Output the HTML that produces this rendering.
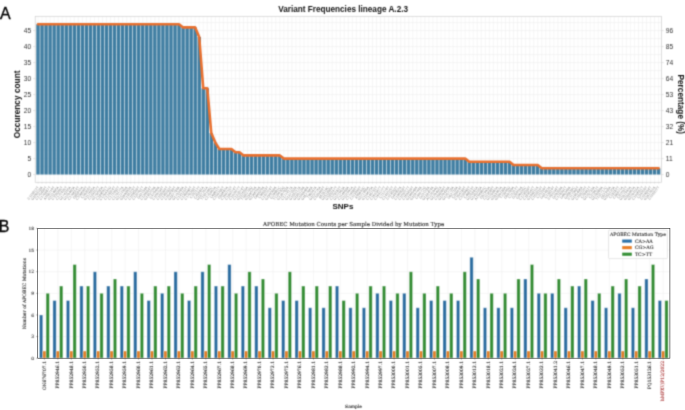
<!DOCTYPE html>
<html lang="en"><head><meta charset="utf-8"><title>Variant Frequencies lineage A.2.3</title>
<style>
html,body{margin:0;padding:0;background:#fff;}
body{width:685px;height:410px;overflow:hidden;}
svg{display:block;}
.sans{font-family:"Liberation Sans",Arial,Helvetica,sans-serif;}
.serif{font-family:"DejaVu Serif","Liberation Serif",serif;}
.serif text{stroke:#222;stroke-width:0.1px;}
.serif text.red{stroke:#a52a2a;}
.serif text.sans{stroke:none;}
.sans text.b{stroke:#111;stroke-width:0.2px;}
</style></head><body>
<svg width="685" height="410" viewBox="0 0 685 410">
<defs><filter id="soft" x="0" y="0" width="685" height="410" filterUnits="userSpaceOnUse" color-interpolation-filters="sRGB"><feConvolveMatrix order="3" kernelMatrix="0.0324 0.1152 0.0324 0.1152 0.4096 0.1152 0.0324 0.1152 0.0324" divisor="1" edgeMode="duplicate" preserveAlpha="false"/></filter></defs>
<g filter="url(#soft)">
<rect x="0" y="0" width="685" height="410" fill="#ffffff"/>
<g id="panelA" class="sans">
<path d="M35.2 174.60H661.6M35.2 166.60H661.6M35.2 158.60H661.6M35.2 150.60H661.6M35.2 142.60H661.6M35.2 134.60H661.6M35.2 126.60H661.6M35.2 118.60H661.6M35.2 110.60H661.6M35.2 102.60H661.6M35.2 94.60H661.6M35.2 86.60H661.6M35.2 78.60H661.6M35.2 70.60H661.6M35.2 62.60H661.6M35.2 54.60H661.6M35.2 46.60H661.6M35.2 38.60H661.6M35.2 30.60H661.6M35.2 22.60H661.6M38.00 16.3V182.3M42.03 16.3V182.3M46.06 16.3V182.3M50.09 16.3V182.3M54.12 16.3V182.3M58.15 16.3V182.3M62.18 16.3V182.3M66.21 16.3V182.3M70.24 16.3V182.3M74.27 16.3V182.3M78.30 16.3V182.3M82.33 16.3V182.3M86.36 16.3V182.3M90.39 16.3V182.3M94.42 16.3V182.3M98.45 16.3V182.3M102.48 16.3V182.3M106.51 16.3V182.3M110.54 16.3V182.3M114.57 16.3V182.3M118.60 16.3V182.3M122.63 16.3V182.3M126.66 16.3V182.3M130.69 16.3V182.3M134.72 16.3V182.3M138.75 16.3V182.3M142.78 16.3V182.3M146.81 16.3V182.3M150.84 16.3V182.3M154.87 16.3V182.3M158.90 16.3V182.3M162.93 16.3V182.3M166.96 16.3V182.3M170.99 16.3V182.3M175.02 16.3V182.3M179.05 16.3V182.3M183.08 16.3V182.3M187.11 16.3V182.3M191.14 16.3V182.3M195.17 16.3V182.3M199.20 16.3V182.3M203.23 16.3V182.3M207.26 16.3V182.3M211.29 16.3V182.3M215.32 16.3V182.3M219.35 16.3V182.3M223.38 16.3V182.3M227.41 16.3V182.3M231.44 16.3V182.3M235.47 16.3V182.3M239.50 16.3V182.3M243.53 16.3V182.3M247.56 16.3V182.3M251.59 16.3V182.3M255.62 16.3V182.3M259.65 16.3V182.3M263.68 16.3V182.3M267.71 16.3V182.3M271.74 16.3V182.3M275.77 16.3V182.3M279.80 16.3V182.3M283.83 16.3V182.3M287.86 16.3V182.3M291.89 16.3V182.3M295.92 16.3V182.3M299.95 16.3V182.3M303.98 16.3V182.3M308.01 16.3V182.3M312.04 16.3V182.3M316.07 16.3V182.3M320.10 16.3V182.3M324.13 16.3V182.3M328.16 16.3V182.3M332.19 16.3V182.3M336.22 16.3V182.3M340.25 16.3V182.3M344.28 16.3V182.3M348.31 16.3V182.3M352.34 16.3V182.3M356.37 16.3V182.3M360.40 16.3V182.3M364.43 16.3V182.3M368.46 16.3V182.3M372.49 16.3V182.3M376.52 16.3V182.3M380.55 16.3V182.3M384.58 16.3V182.3M388.61 16.3V182.3M392.64 16.3V182.3M396.67 16.3V182.3M400.70 16.3V182.3M404.73 16.3V182.3M408.76 16.3V182.3M412.79 16.3V182.3M416.82 16.3V182.3M420.85 16.3V182.3M424.88 16.3V182.3M428.91 16.3V182.3M432.94 16.3V182.3M436.97 16.3V182.3M441.00 16.3V182.3M445.03 16.3V182.3M449.06 16.3V182.3M453.09 16.3V182.3M457.12 16.3V182.3M461.15 16.3V182.3M465.18 16.3V182.3M469.21 16.3V182.3M473.24 16.3V182.3M477.27 16.3V182.3M481.30 16.3V182.3M485.33 16.3V182.3M489.36 16.3V182.3M493.39 16.3V182.3M497.42 16.3V182.3M501.45 16.3V182.3M505.48 16.3V182.3M509.51 16.3V182.3M513.54 16.3V182.3M517.57 16.3V182.3M521.60 16.3V182.3M525.63 16.3V182.3M529.66 16.3V182.3M533.69 16.3V182.3M537.72 16.3V182.3M541.75 16.3V182.3M545.78 16.3V182.3M549.81 16.3V182.3M553.84 16.3V182.3M557.87 16.3V182.3M561.90 16.3V182.3M565.93 16.3V182.3M569.96 16.3V182.3M573.99 16.3V182.3M578.02 16.3V182.3M582.05 16.3V182.3M586.08 16.3V182.3M590.11 16.3V182.3M594.14 16.3V182.3M598.17 16.3V182.3M602.20 16.3V182.3M606.23 16.3V182.3M610.26 16.3V182.3M614.29 16.3V182.3M618.32 16.3V182.3M622.35 16.3V182.3M626.38 16.3V182.3M630.41 16.3V182.3M634.44 16.3V182.3M638.47 16.3V182.3M642.50 16.3V182.3M646.53 16.3V182.3M650.56 16.3V182.3M654.59 16.3V182.3M658.62 16.3V182.3" stroke="#ececec" stroke-width="0.5" fill="none"/>
<path d="M36.29 174.6V24.20h3.43V174.6zM40.32 174.6V24.20h3.43V174.6zM44.35 174.6V24.20h3.43V174.6zM48.38 174.6V24.20h3.43V174.6zM52.41 174.6V24.20h3.43V174.6zM56.44 174.6V24.20h3.43V174.6zM60.47 174.6V24.20h3.43V174.6zM64.50 174.6V24.20h3.43V174.6zM68.53 174.6V24.20h3.43V174.6zM72.56 174.6V24.20h3.43V174.6zM76.59 174.6V24.20h3.43V174.6zM80.62 174.6V24.20h3.43V174.6zM84.65 174.6V24.20h3.43V174.6zM88.68 174.6V24.20h3.43V174.6zM92.71 174.6V24.20h3.43V174.6zM96.74 174.6V24.20h3.43V174.6zM100.77 174.6V24.20h3.43V174.6zM104.80 174.6V24.20h3.43V174.6zM108.83 174.6V24.20h3.43V174.6zM112.86 174.6V24.20h3.43V174.6zM116.89 174.6V24.20h3.43V174.6zM120.92 174.6V24.20h3.43V174.6zM124.95 174.6V24.20h3.43V174.6zM128.98 174.6V24.20h3.43V174.6zM133.01 174.6V24.20h3.43V174.6zM137.04 174.6V24.20h3.43V174.6zM141.07 174.6V24.20h3.43V174.6zM145.10 174.6V24.20h3.43V174.6zM149.13 174.6V24.20h3.43V174.6zM153.16 174.6V24.20h3.43V174.6zM157.19 174.6V24.20h3.43V174.6zM161.22 174.6V24.20h3.43V174.6zM165.25 174.6V24.20h3.43V174.6zM169.28 174.6V24.20h3.43V174.6zM173.31 174.6V24.20h3.43V174.6zM177.34 174.6V24.20h3.43V174.6zM181.37 174.6V27.40h3.43V174.6zM185.40 174.6V27.40h3.43V174.6zM189.43 174.6V27.40h3.43V174.6zM193.46 174.6V27.40h3.43V174.6zM197.49 174.6V37.00h3.43V174.6zM201.52 174.6V88.20h3.43V174.6zM205.55 174.6V88.20h3.43V174.6zM209.58 174.6V133.00h3.43V174.6zM213.61 174.6V142.60h3.43V174.6zM217.64 174.6V149.00h3.43V174.6zM221.67 174.6V149.00h3.43V174.6zM225.70 174.6V149.00h3.43V174.6zM229.73 174.6V149.00h3.43V174.6zM233.76 174.6V152.20h3.43V174.6zM237.79 174.6V152.20h3.43V174.6zM241.82 174.6V155.40h3.43V174.6zM245.85 174.6V155.40h3.43V174.6zM249.88 174.6V155.40h3.43V174.6zM253.91 174.6V155.40h3.43V174.6zM257.94 174.6V155.40h3.43V174.6zM261.97 174.6V155.40h3.43V174.6zM266.00 174.6V155.40h3.43V174.6zM270.03 174.6V155.40h3.43V174.6zM274.06 174.6V155.40h3.43V174.6zM278.09 174.6V155.40h3.43V174.6zM282.12 174.6V158.60h3.43V174.6zM286.15 174.6V158.60h3.43V174.6zM290.18 174.6V158.60h3.43V174.6zM294.21 174.6V158.60h3.43V174.6zM298.24 174.6V158.60h3.43V174.6zM302.27 174.6V158.60h3.43V174.6zM306.30 174.6V158.60h3.43V174.6zM310.33 174.6V158.60h3.43V174.6zM314.36 174.6V158.60h3.43V174.6zM318.39 174.6V158.60h3.43V174.6zM322.42 174.6V158.60h3.43V174.6zM326.45 174.6V158.60h3.43V174.6zM330.48 174.6V158.60h3.43V174.6zM334.51 174.6V158.60h3.43V174.6zM338.54 174.6V158.60h3.43V174.6zM342.57 174.6V158.60h3.43V174.6zM346.60 174.6V158.60h3.43V174.6zM350.63 174.6V158.60h3.43V174.6zM354.66 174.6V158.60h3.43V174.6zM358.69 174.6V158.60h3.43V174.6zM362.72 174.6V158.60h3.43V174.6zM366.75 174.6V158.60h3.43V174.6zM370.78 174.6V158.60h3.43V174.6zM374.81 174.6V158.60h3.43V174.6zM378.84 174.6V158.60h3.43V174.6zM382.87 174.6V158.60h3.43V174.6zM386.90 174.6V158.60h3.43V174.6zM390.93 174.6V158.60h3.43V174.6zM394.96 174.6V158.60h3.43V174.6zM398.99 174.6V158.60h3.43V174.6zM403.02 174.6V158.60h3.43V174.6zM407.05 174.6V158.60h3.43V174.6zM411.08 174.6V158.60h3.43V174.6zM415.11 174.6V158.60h3.43V174.6zM419.14 174.6V158.60h3.43V174.6zM423.17 174.6V158.60h3.43V174.6zM427.20 174.6V158.60h3.43V174.6zM431.23 174.6V158.60h3.43V174.6zM435.26 174.6V158.60h3.43V174.6zM439.29 174.6V158.60h3.43V174.6zM443.32 174.6V158.60h3.43V174.6zM447.35 174.6V158.60h3.43V174.6zM451.38 174.6V158.60h3.43V174.6zM455.41 174.6V158.60h3.43V174.6zM459.44 174.6V158.60h3.43V174.6zM463.47 174.6V158.60h3.43V174.6zM467.50 174.6V161.80h3.43V174.6zM471.53 174.6V161.80h3.43V174.6zM475.56 174.6V161.80h3.43V174.6zM479.59 174.6V161.80h3.43V174.6zM483.62 174.6V161.80h3.43V174.6zM487.65 174.6V161.80h3.43V174.6zM491.68 174.6V161.80h3.43V174.6zM495.71 174.6V161.80h3.43V174.6zM499.74 174.6V161.80h3.43V174.6zM503.77 174.6V161.80h3.43V174.6zM507.80 174.6V161.80h3.43V174.6zM511.83 174.6V165.00h3.43V174.6zM515.86 174.6V165.00h3.43V174.6zM519.89 174.6V165.00h3.43V174.6zM523.92 174.6V165.00h3.43V174.6zM527.95 174.6V165.00h3.43V174.6zM531.98 174.6V165.00h3.43V174.6zM536.01 174.6V165.00h3.43V174.6zM540.04 174.6V168.20h3.43V174.6zM544.07 174.6V168.20h3.43V174.6zM548.10 174.6V168.20h3.43V174.6zM552.13 174.6V168.20h3.43V174.6zM556.16 174.6V168.20h3.43V174.6zM560.19 174.6V168.20h3.43V174.6zM564.22 174.6V168.20h3.43V174.6zM568.25 174.6V168.20h3.43V174.6zM572.28 174.6V168.20h3.43V174.6zM576.31 174.6V168.20h3.43V174.6zM580.34 174.6V168.20h3.43V174.6zM584.37 174.6V168.20h3.43V174.6zM588.40 174.6V168.20h3.43V174.6zM592.43 174.6V168.20h3.43V174.6zM596.46 174.6V168.20h3.43V174.6zM600.49 174.6V168.20h3.43V174.6zM604.52 174.6V168.20h3.43V174.6zM608.55 174.6V168.20h3.43V174.6zM612.58 174.6V168.20h3.43V174.6zM616.61 174.6V168.20h3.43V174.6zM620.64 174.6V168.20h3.43V174.6zM624.67 174.6V168.20h3.43V174.6zM628.70 174.6V168.20h3.43V174.6zM632.73 174.6V168.20h3.43V174.6zM636.76 174.6V168.20h3.43V174.6zM640.79 174.6V168.20h3.43V174.6zM644.82 174.6V168.20h3.43V174.6zM648.85 174.6V168.20h3.43V174.6zM652.88 174.6V168.20h3.43V174.6zM656.91 174.6V168.20h3.43V174.6z" fill="#407ea2"/>
<polyline points="38.00,24.20 42.03,24.20 46.06,24.20 50.09,24.20 54.12,24.20 58.15,24.20 62.18,24.20 66.21,24.20 70.24,24.20 74.27,24.20 78.30,24.20 82.33,24.20 86.36,24.20 90.39,24.20 94.42,24.20 98.45,24.20 102.48,24.20 106.51,24.20 110.54,24.20 114.57,24.20 118.60,24.20 122.63,24.20 126.66,24.20 130.69,24.20 134.72,24.20 138.75,24.20 142.78,24.20 146.81,24.20 150.84,24.20 154.87,24.20 158.90,24.20 162.93,24.20 166.96,24.20 170.99,24.20 175.02,24.20 179.05,24.20 183.08,27.40 187.11,27.40 191.14,27.40 195.17,27.40 199.20,37.00 203.23,88.20 207.26,88.20 211.29,133.00 215.32,142.60 219.35,149.00 223.38,149.00 227.41,149.00 231.44,149.00 235.47,152.20 239.50,152.20 243.53,155.40 247.56,155.40 251.59,155.40 255.62,155.40 259.65,155.40 263.68,155.40 267.71,155.40 271.74,155.40 275.77,155.40 279.80,155.40 283.83,158.60 287.86,158.60 291.89,158.60 295.92,158.60 299.95,158.60 303.98,158.60 308.01,158.60 312.04,158.60 316.07,158.60 320.10,158.60 324.13,158.60 328.16,158.60 332.19,158.60 336.22,158.60 340.25,158.60 344.28,158.60 348.31,158.60 352.34,158.60 356.37,158.60 360.40,158.60 364.43,158.60 368.46,158.60 372.49,158.60 376.52,158.60 380.55,158.60 384.58,158.60 388.61,158.60 392.64,158.60 396.67,158.60 400.70,158.60 404.73,158.60 408.76,158.60 412.79,158.60 416.82,158.60 420.85,158.60 424.88,158.60 428.91,158.60 432.94,158.60 436.97,158.60 441.00,158.60 445.03,158.60 449.06,158.60 453.09,158.60 457.12,158.60 461.15,158.60 465.18,158.60 469.21,161.80 473.24,161.80 477.27,161.80 481.30,161.80 485.33,161.80 489.36,161.80 493.39,161.80 497.42,161.80 501.45,161.80 505.48,161.80 509.51,161.80 513.54,165.00 517.57,165.00 521.60,165.00 525.63,165.00 529.66,165.00 533.69,165.00 537.72,165.00 541.75,168.20 545.78,168.20 549.81,168.20 553.84,168.20 557.87,168.20 561.90,168.20 565.93,168.20 569.96,168.20 573.99,168.20 578.02,168.20 582.05,168.20 586.08,168.20 590.11,168.20 594.14,168.20 598.17,168.20 602.20,168.20 606.23,168.20 610.26,168.20 614.29,168.20 618.32,168.20 622.35,168.20 626.38,168.20 630.41,168.20 634.44,168.20 638.47,168.20 642.50,168.20 646.53,168.20 650.56,168.20 654.59,168.20 658.62,168.20" fill="none" stroke="#e8702f" stroke-width="2.6" stroke-linejoin="round" stroke-linecap="round"/>
<rect x="35.2" y="16.3" width="626.40" height="166.00" fill="none" stroke="#cfcfcf" stroke-width="0.7"/>
<path d="M33.2 174.60H35.2M661.6 174.60h2M33.2 158.60H35.2M661.6 158.60h2M33.2 142.60H35.2M661.6 142.60h2M33.2 126.60H35.2M661.6 126.60h2M33.2 110.60H35.2M661.6 110.60h2M33.2 94.60H35.2M661.6 94.60h2M33.2 78.60H35.2M661.6 78.60h2M33.2 62.60H35.2M661.6 62.60h2M33.2 46.60H35.2M661.6 46.60h2M33.2 30.60H35.2M661.6 30.60h2M38.00 182.3v1.3M42.03 182.3v1.3M46.06 182.3v1.3M50.09 182.3v1.3M54.12 182.3v1.3M58.15 182.3v1.3M62.18 182.3v1.3M66.21 182.3v1.3M70.24 182.3v1.3M74.27 182.3v1.3M78.30 182.3v1.3M82.33 182.3v1.3M86.36 182.3v1.3M90.39 182.3v1.3M94.42 182.3v1.3M98.45 182.3v1.3M102.48 182.3v1.3M106.51 182.3v1.3M110.54 182.3v1.3M114.57 182.3v1.3M118.60 182.3v1.3M122.63 182.3v1.3M126.66 182.3v1.3M130.69 182.3v1.3M134.72 182.3v1.3M138.75 182.3v1.3M142.78 182.3v1.3M146.81 182.3v1.3M150.84 182.3v1.3M154.87 182.3v1.3M158.90 182.3v1.3M162.93 182.3v1.3M166.96 182.3v1.3M170.99 182.3v1.3M175.02 182.3v1.3M179.05 182.3v1.3M183.08 182.3v1.3M187.11 182.3v1.3M191.14 182.3v1.3M195.17 182.3v1.3M199.20 182.3v1.3M203.23 182.3v1.3M207.26 182.3v1.3M211.29 182.3v1.3M215.32 182.3v1.3M219.35 182.3v1.3M223.38 182.3v1.3M227.41 182.3v1.3M231.44 182.3v1.3M235.47 182.3v1.3M239.50 182.3v1.3M243.53 182.3v1.3M247.56 182.3v1.3M251.59 182.3v1.3M255.62 182.3v1.3M259.65 182.3v1.3M263.68 182.3v1.3M267.71 182.3v1.3M271.74 182.3v1.3M275.77 182.3v1.3M279.80 182.3v1.3M283.83 182.3v1.3M287.86 182.3v1.3M291.89 182.3v1.3M295.92 182.3v1.3M299.95 182.3v1.3M303.98 182.3v1.3M308.01 182.3v1.3M312.04 182.3v1.3M316.07 182.3v1.3M320.10 182.3v1.3M324.13 182.3v1.3M328.16 182.3v1.3M332.19 182.3v1.3M336.22 182.3v1.3M340.25 182.3v1.3M344.28 182.3v1.3M348.31 182.3v1.3M352.34 182.3v1.3M356.37 182.3v1.3M360.40 182.3v1.3M364.43 182.3v1.3M368.46 182.3v1.3M372.49 182.3v1.3M376.52 182.3v1.3M380.55 182.3v1.3M384.58 182.3v1.3M388.61 182.3v1.3M392.64 182.3v1.3M396.67 182.3v1.3M400.70 182.3v1.3M404.73 182.3v1.3M408.76 182.3v1.3M412.79 182.3v1.3M416.82 182.3v1.3M420.85 182.3v1.3M424.88 182.3v1.3M428.91 182.3v1.3M432.94 182.3v1.3M436.97 182.3v1.3M441.00 182.3v1.3M445.03 182.3v1.3M449.06 182.3v1.3M453.09 182.3v1.3M457.12 182.3v1.3M461.15 182.3v1.3M465.18 182.3v1.3M469.21 182.3v1.3M473.24 182.3v1.3M477.27 182.3v1.3M481.30 182.3v1.3M485.33 182.3v1.3M489.36 182.3v1.3M493.39 182.3v1.3M497.42 182.3v1.3M501.45 182.3v1.3M505.48 182.3v1.3M509.51 182.3v1.3M513.54 182.3v1.3M517.57 182.3v1.3M521.60 182.3v1.3M525.63 182.3v1.3M529.66 182.3v1.3M533.69 182.3v1.3M537.72 182.3v1.3M541.75 182.3v1.3M545.78 182.3v1.3M549.81 182.3v1.3M553.84 182.3v1.3M557.87 182.3v1.3M561.90 182.3v1.3M565.93 182.3v1.3M569.96 182.3v1.3M573.99 182.3v1.3M578.02 182.3v1.3M582.05 182.3v1.3M586.08 182.3v1.3M590.11 182.3v1.3M594.14 182.3v1.3M598.17 182.3v1.3M602.20 182.3v1.3M606.23 182.3v1.3M610.26 182.3v1.3M614.29 182.3v1.3M618.32 182.3v1.3M622.35 182.3v1.3M626.38 182.3v1.3M630.41 182.3v1.3M634.44 182.3v1.3M638.47 182.3v1.3M642.50 182.3v1.3M646.53 182.3v1.3M650.56 182.3v1.3M654.59 182.3v1.3M658.62 182.3v1.3" stroke="#c8c8c8" stroke-width="0.5" fill="none"/>
<text x="31.3" y="177.00" font-size="6.7" text-anchor="end" fill="#333">0</text>
<text x="665.7" y="177.00" font-size="6.7" text-anchor="start" fill="#333">0</text>
<text x="31.3" y="161.00" font-size="6.7" text-anchor="end" fill="#333">5</text>
<text x="665.7" y="161.00" font-size="6.7" text-anchor="start" fill="#333">11</text>
<text x="31.3" y="145.00" font-size="6.7" text-anchor="end" fill="#333">10</text>
<text x="665.7" y="145.00" font-size="6.7" text-anchor="start" fill="#333">21</text>
<text x="31.3" y="129.00" font-size="6.7" text-anchor="end" fill="#333">15</text>
<text x="665.7" y="129.00" font-size="6.7" text-anchor="start" fill="#333">32</text>
<text x="31.3" y="113.00" font-size="6.7" text-anchor="end" fill="#333">20</text>
<text x="665.7" y="113.00" font-size="6.7" text-anchor="start" fill="#333">43</text>
<text x="31.3" y="97.00" font-size="6.7" text-anchor="end" fill="#333">25</text>
<text x="665.7" y="97.00" font-size="6.7" text-anchor="start" fill="#333">53</text>
<text x="31.3" y="81.00" font-size="6.7" text-anchor="end" fill="#333">30</text>
<text x="665.7" y="81.00" font-size="6.7" text-anchor="start" fill="#333">64</text>
<text x="31.3" y="65.00" font-size="6.7" text-anchor="end" fill="#333">35</text>
<text x="665.7" y="65.00" font-size="6.7" text-anchor="start" fill="#333">74</text>
<text x="31.3" y="49.00" font-size="6.7" text-anchor="end" fill="#333">40</text>
<text x="665.7" y="49.00" font-size="6.7" text-anchor="start" fill="#333">85</text>
<text x="31.3" y="33.00" font-size="6.7" text-anchor="end" fill="#333">45</text>
<text x="665.7" y="33.00" font-size="6.7" text-anchor="start" fill="#333">96</text>
<text transform="translate(39.00 187.4) rotate(-52)" font-size="3.5" text-anchor="end" fill="#888">C119972T</text>
<text transform="translate(43.03 187.4) rotate(-52)" font-size="3.5" text-anchor="end" fill="#888">G106528A</text>
<text transform="translate(47.06 187.4) rotate(-52)" font-size="3.5" text-anchor="end" fill="#888">C170439T</text>
<text transform="translate(51.09 187.4) rotate(-52)" font-size="3.5" text-anchor="end" fill="#888">C176587T</text>
<text transform="translate(55.12 187.4) rotate(-52)" font-size="3.5" text-anchor="end" fill="#888">A166710T</text>
<text transform="translate(59.15 187.4) rotate(-52)" font-size="3.5" text-anchor="end" fill="#888">G111465A</text>
<text transform="translate(63.18 187.4) rotate(-52)" font-size="3.5" text-anchor="end" fill="#888">C109356T</text>
<text transform="translate(67.21 187.4) rotate(-52)" font-size="3.5" text-anchor="end" fill="#888">C172426T</text>
<text transform="translate(71.24 187.4) rotate(-52)" font-size="3.5" text-anchor="end" fill="#888">G174315A</text>
<text transform="translate(75.27 187.4) rotate(-52)" font-size="3.5" text-anchor="end" fill="#888">G129460A</text>
<text transform="translate(79.30 187.4) rotate(-52)" font-size="3.5" text-anchor="end" fill="#888">C176614T</text>
<text transform="translate(83.33 187.4) rotate(-52)" font-size="3.5" text-anchor="end" fill="#888">G85842A</text>
<text transform="translate(87.36 187.4) rotate(-52)" font-size="3.5" text-anchor="end" fill="#888">C106699T</text>
<text transform="translate(91.39 187.4) rotate(-52)" font-size="3.5" text-anchor="end" fill="#888">C16305T</text>
<text transform="translate(95.42 187.4) rotate(-52)" font-size="3.5" text-anchor="end" fill="#888">G117655A</text>
<text transform="translate(99.45 187.4) rotate(-52)" font-size="3.5" text-anchor="end" fill="#888">C119107T</text>
<text transform="translate(103.48 187.4) rotate(-52)" font-size="3.5" text-anchor="end" fill="#888">G175030A</text>
<text transform="translate(107.51 187.4) rotate(-52)" font-size="3.5" text-anchor="end" fill="#888">C189591T</text>
<text transform="translate(111.54 187.4) rotate(-52)" font-size="3.5" text-anchor="end" fill="#888">C176431G</text>
<text transform="translate(115.57 187.4) rotate(-52)" font-size="3.5" text-anchor="end" fill="#888">C124824T</text>
<text transform="translate(119.60 187.4) rotate(-52)" font-size="3.5" text-anchor="end" fill="#888">C171993T</text>
<text transform="translate(123.63 187.4) rotate(-52)" font-size="3.5" text-anchor="end" fill="#888">C174172A</text>
<text transform="translate(127.66 187.4) rotate(-52)" font-size="3.5" text-anchor="end" fill="#888">G127195A</text>
<text transform="translate(131.69 187.4) rotate(-52)" font-size="3.5" text-anchor="end" fill="#888">G169893A</text>
<text transform="translate(135.72 187.4) rotate(-52)" font-size="3.5" text-anchor="end" fill="#888">C141375T</text>
<text transform="translate(139.75 187.4) rotate(-52)" font-size="3.5" text-anchor="end" fill="#888">C159599T</text>
<text transform="translate(143.78 187.4) rotate(-52)" font-size="3.5" text-anchor="end" fill="#888">C132761T</text>
<text transform="translate(147.81 187.4) rotate(-52)" font-size="3.5" text-anchor="end" fill="#888">G42194A</text>
<text transform="translate(151.84 187.4) rotate(-52)" font-size="3.5" text-anchor="end" fill="#888">C139554T</text>
<text transform="translate(155.87 187.4) rotate(-52)" font-size="3.5" text-anchor="end" fill="#888">G145220A</text>
<text transform="translate(159.90 187.4) rotate(-52)" font-size="3.5" text-anchor="end" fill="#888">C47940A</text>
<text transform="translate(163.93 187.4) rotate(-52)" font-size="3.5" text-anchor="end" fill="#888">C109794T</text>
<text transform="translate(167.96 187.4) rotate(-52)" font-size="3.5" text-anchor="end" fill="#888">C155004T</text>
<text transform="translate(171.99 187.4) rotate(-52)" font-size="3.5" text-anchor="end" fill="#888">C145033T</text>
<text transform="translate(176.02 187.4) rotate(-52)" font-size="3.5" text-anchor="end" fill="#888">C164289T</text>
<text transform="translate(180.05 187.4) rotate(-52)" font-size="3.5" text-anchor="end" fill="#888">G187784A</text>
<text transform="translate(184.08 187.4) rotate(-52)" font-size="3.5" text-anchor="end" fill="#888">G173348A</text>
<text transform="translate(188.11 187.4) rotate(-52)" font-size="3.5" text-anchor="end" fill="#888">C141323T</text>
<text transform="translate(192.14 187.4) rotate(-52)" font-size="3.5" text-anchor="end" fill="#888">C146098T</text>
<text transform="translate(196.17 187.4) rotate(-52)" font-size="3.5" text-anchor="end" fill="#888">C176208T</text>
<text transform="translate(200.20 187.4) rotate(-52)" font-size="3.5" text-anchor="end" fill="#888">C19212T</text>
<text transform="translate(204.23 187.4) rotate(-52)" font-size="3.5" text-anchor="end" fill="#888">C45581A</text>
<text transform="translate(208.26 187.4) rotate(-52)" font-size="3.5" text-anchor="end" fill="#888">G187251A</text>
<text transform="translate(212.29 187.4) rotate(-52)" font-size="3.5" text-anchor="end" fill="#888">T192145C</text>
<text transform="translate(216.32 187.4) rotate(-52)" font-size="3.5" text-anchor="end" fill="#888">C175952A</text>
<text transform="translate(220.35 187.4) rotate(-52)" font-size="3.5" text-anchor="end" fill="#888">C68611T</text>
<text transform="translate(224.38 187.4) rotate(-52)" font-size="3.5" text-anchor="end" fill="#888">C150766T</text>
<text transform="translate(228.41 187.4) rotate(-52)" font-size="3.5" text-anchor="end" fill="#888">G55682A</text>
<text transform="translate(232.44 187.4) rotate(-52)" font-size="3.5" text-anchor="end" fill="#888">C160715T</text>
<text transform="translate(236.47 187.4) rotate(-52)" font-size="3.5" text-anchor="end" fill="#888">C180274T</text>
<text transform="translate(240.50 187.4) rotate(-52)" font-size="3.5" text-anchor="end" fill="#888">C107927T</text>
<text transform="translate(244.53 187.4) rotate(-52)" font-size="3.5" text-anchor="end" fill="#888">C137874T</text>
<text transform="translate(248.56 187.4) rotate(-52)" font-size="3.5" text-anchor="end" fill="#888">G132655A</text>
<text transform="translate(252.59 187.4) rotate(-52)" font-size="3.5" text-anchor="end" fill="#888">T165278G</text>
<text transform="translate(256.62 187.4) rotate(-52)" font-size="3.5" text-anchor="end" fill="#888">G159075A</text>
<text transform="translate(260.65 187.4) rotate(-52)" font-size="3.5" text-anchor="end" fill="#888">G136616A</text>
<text transform="translate(264.68 187.4) rotate(-52)" font-size="3.5" text-anchor="end" fill="#888">G66629A</text>
<text transform="translate(268.71 187.4) rotate(-52)" font-size="3.5" text-anchor="end" fill="#888">C46693T</text>
<text transform="translate(272.74 187.4) rotate(-52)" font-size="3.5" text-anchor="end" fill="#888">C147224T</text>
<text transform="translate(276.77 187.4) rotate(-52)" font-size="3.5" text-anchor="end" fill="#888">G150065A</text>
<text transform="translate(280.80 187.4) rotate(-52)" font-size="3.5" text-anchor="end" fill="#888">G29981C</text>
<text transform="translate(284.83 187.4) rotate(-52)" font-size="3.5" text-anchor="end" fill="#888">T120030G</text>
<text transform="translate(288.86 187.4) rotate(-52)" font-size="3.5" text-anchor="end" fill="#888">G130783A</text>
<text transform="translate(292.89 187.4) rotate(-52)" font-size="3.5" text-anchor="end" fill="#888">C177417A</text>
<text transform="translate(296.92 187.4) rotate(-52)" font-size="3.5" text-anchor="end" fill="#888">G137153A</text>
<text transform="translate(300.95 187.4) rotate(-52)" font-size="3.5" text-anchor="end" fill="#888">G155112A</text>
<text transform="translate(304.98 187.4) rotate(-52)" font-size="3.5" text-anchor="end" fill="#888">G180129A</text>
<text transform="translate(309.01 187.4) rotate(-52)" font-size="3.5" text-anchor="end" fill="#888">G116648A</text>
<text transform="translate(313.04 187.4) rotate(-52)" font-size="3.5" text-anchor="end" fill="#888">G167766A</text>
<text transform="translate(317.07 187.4) rotate(-52)" font-size="3.5" text-anchor="end" fill="#888">T96047A</text>
<text transform="translate(321.10 187.4) rotate(-52)" font-size="3.5" text-anchor="end" fill="#888">G107276A</text>
<text transform="translate(325.13 187.4) rotate(-52)" font-size="3.5" text-anchor="end" fill="#888">C189404T</text>
<text transform="translate(329.16 187.4) rotate(-52)" font-size="3.5" text-anchor="end" fill="#888">A61629C</text>
<text transform="translate(333.19 187.4) rotate(-52)" font-size="3.5" text-anchor="end" fill="#888">G151858A</text>
<text transform="translate(337.22 187.4) rotate(-52)" font-size="3.5" text-anchor="end" fill="#888">G183337T</text>
<text transform="translate(341.25 187.4) rotate(-52)" font-size="3.5" text-anchor="end" fill="#888">C125183T</text>
<text transform="translate(345.28 187.4) rotate(-52)" font-size="3.5" text-anchor="end" fill="#888">G127563A</text>
<text transform="translate(349.31 187.4) rotate(-52)" font-size="3.5" text-anchor="end" fill="#888">C114608A</text>
<text transform="translate(353.34 187.4) rotate(-52)" font-size="3.5" text-anchor="end" fill="#888">G107091A</text>
<text transform="translate(357.37 187.4) rotate(-52)" font-size="3.5" text-anchor="end" fill="#888">C174489T</text>
<text transform="translate(361.40 187.4) rotate(-52)" font-size="3.5" text-anchor="end" fill="#888">C113499T</text>
<text transform="translate(365.43 187.4) rotate(-52)" font-size="3.5" text-anchor="end" fill="#888">A90643C</text>
<text transform="translate(369.46 187.4) rotate(-52)" font-size="3.5" text-anchor="end" fill="#888">G127456A</text>
<text transform="translate(373.49 187.4) rotate(-52)" font-size="3.5" text-anchor="end" fill="#888">G119670A</text>
<text transform="translate(377.52 187.4) rotate(-52)" font-size="3.5" text-anchor="end" fill="#888">C145733T</text>
<text transform="translate(381.55 187.4) rotate(-52)" font-size="3.5" text-anchor="end" fill="#888">C162347T</text>
<text transform="translate(385.58 187.4) rotate(-52)" font-size="3.5" text-anchor="end" fill="#888">C164172T</text>
<text transform="translate(389.61 187.4) rotate(-52)" font-size="3.5" text-anchor="end" fill="#888">C71278T</text>
<text transform="translate(393.64 187.4) rotate(-52)" font-size="3.5" text-anchor="end" fill="#888">C141075T</text>
<text transform="translate(397.67 187.4) rotate(-52)" font-size="3.5" text-anchor="end" fill="#888">C113593T</text>
<text transform="translate(401.70 187.4) rotate(-52)" font-size="3.5" text-anchor="end" fill="#888">G44902A</text>
<text transform="translate(405.73 187.4) rotate(-52)" font-size="3.5" text-anchor="end" fill="#888">C190909T</text>
<text transform="translate(409.76 187.4) rotate(-52)" font-size="3.5" text-anchor="end" fill="#888">C103227T</text>
<text transform="translate(413.79 187.4) rotate(-52)" font-size="3.5" text-anchor="end" fill="#888">C169439T</text>
<text transform="translate(417.82 187.4) rotate(-52)" font-size="3.5" text-anchor="end" fill="#888">G190648A</text>
<text transform="translate(421.85 187.4) rotate(-52)" font-size="3.5" text-anchor="end" fill="#888">G103744A</text>
<text transform="translate(425.88 187.4) rotate(-52)" font-size="3.5" text-anchor="end" fill="#888">C49271G</text>
<text transform="translate(429.91 187.4) rotate(-52)" font-size="3.5" text-anchor="end" fill="#888">G22128A</text>
<text transform="translate(433.94 187.4) rotate(-52)" font-size="3.5" text-anchor="end" fill="#888">G134424A</text>
<text transform="translate(437.97 187.4) rotate(-52)" font-size="3.5" text-anchor="end" fill="#888">A122094G</text>
<text transform="translate(442.00 187.4) rotate(-52)" font-size="3.5" text-anchor="end" fill="#888">G129401A</text>
<text transform="translate(446.03 187.4) rotate(-52)" font-size="3.5" text-anchor="end" fill="#888">C166089T</text>
<text transform="translate(450.06 187.4) rotate(-52)" font-size="3.5" text-anchor="end" fill="#888">G129434A</text>
<text transform="translate(454.09 187.4) rotate(-52)" font-size="3.5" text-anchor="end" fill="#888">G125778A</text>
<text transform="translate(458.12 187.4) rotate(-52)" font-size="3.5" text-anchor="end" fill="#888">G62718A</text>
<text transform="translate(462.15 187.4) rotate(-52)" font-size="3.5" text-anchor="end" fill="#888">C39919T</text>
<text transform="translate(466.18 187.4) rotate(-52)" font-size="3.5" text-anchor="end" fill="#888">C164789T</text>
<text transform="translate(470.21 187.4) rotate(-52)" font-size="3.5" text-anchor="end" fill="#888">C103998T</text>
<text transform="translate(474.24 187.4) rotate(-52)" font-size="3.5" text-anchor="end" fill="#888">C46823T</text>
<text transform="translate(478.27 187.4) rotate(-52)" font-size="3.5" text-anchor="end" fill="#888">G125581A</text>
<text transform="translate(482.30 187.4) rotate(-52)" font-size="3.5" text-anchor="end" fill="#888">G145325A</text>
<text transform="translate(486.33 187.4) rotate(-52)" font-size="3.5" text-anchor="end" fill="#888">A194981C</text>
<text transform="translate(490.36 187.4) rotate(-52)" font-size="3.5" text-anchor="end" fill="#888">G57993A</text>
<text transform="translate(494.39 187.4) rotate(-52)" font-size="3.5" text-anchor="end" fill="#888">C113589T</text>
<text transform="translate(498.42 187.4) rotate(-52)" font-size="3.5" text-anchor="end" fill="#888">G125982A</text>
<text transform="translate(502.45 187.4) rotate(-52)" font-size="3.5" text-anchor="end" fill="#888">G163462A</text>
<text transform="translate(506.48 187.4) rotate(-52)" font-size="3.5" text-anchor="end" fill="#888">G180188A</text>
<text transform="translate(510.51 187.4) rotate(-52)" font-size="3.5" text-anchor="end" fill="#888">T73045G</text>
<text transform="translate(514.54 187.4) rotate(-52)" font-size="3.5" text-anchor="end" fill="#888">G55289A</text>
<text transform="translate(518.57 187.4) rotate(-52)" font-size="3.5" text-anchor="end" fill="#888">C21312T</text>
<text transform="translate(522.60 187.4) rotate(-52)" font-size="3.5" text-anchor="end" fill="#888">G25916A</text>
<text transform="translate(526.63 187.4) rotate(-52)" font-size="3.5" text-anchor="end" fill="#888">G36325C</text>
<text transform="translate(530.66 187.4) rotate(-52)" font-size="3.5" text-anchor="end" fill="#888">C123599T</text>
<text transform="translate(534.69 187.4) rotate(-52)" font-size="3.5" text-anchor="end" fill="#888">C183541T</text>
<text transform="translate(538.72 187.4) rotate(-52)" font-size="3.5" text-anchor="end" fill="#888">G194811A</text>
<text transform="translate(542.75 187.4) rotate(-52)" font-size="3.5" text-anchor="end" fill="#888">C152810T</text>
<text transform="translate(546.78 187.4) rotate(-52)" font-size="3.5" text-anchor="end" fill="#888">C21330T</text>
<text transform="translate(550.81 187.4) rotate(-52)" font-size="3.5" text-anchor="end" fill="#888">G32482A</text>
<text transform="translate(554.84 187.4) rotate(-52)" font-size="3.5" text-anchor="end" fill="#888">C13810T</text>
<text transform="translate(558.87 187.4) rotate(-52)" font-size="3.5" text-anchor="end" fill="#888">C161194T</text>
<text transform="translate(562.90 187.4) rotate(-52)" font-size="3.5" text-anchor="end" fill="#888">G29359A</text>
<text transform="translate(566.93 187.4) rotate(-52)" font-size="3.5" text-anchor="end" fill="#888">C178301T</text>
<text transform="translate(570.96 187.4) rotate(-52)" font-size="3.5" text-anchor="end" fill="#888">G96349A</text>
<text transform="translate(574.99 187.4) rotate(-52)" font-size="3.5" text-anchor="end" fill="#888">G30635C</text>
<text transform="translate(579.02 187.4) rotate(-52)" font-size="3.5" text-anchor="end" fill="#888">C117368T</text>
<text transform="translate(583.05 187.4) rotate(-52)" font-size="3.5" text-anchor="end" fill="#888">G195406A</text>
<text transform="translate(587.08 187.4) rotate(-52)" font-size="3.5" text-anchor="end" fill="#888">C169220T</text>
<text transform="translate(591.11 187.4) rotate(-52)" font-size="3.5" text-anchor="end" fill="#888">C28451T</text>
<text transform="translate(595.14 187.4) rotate(-52)" font-size="3.5" text-anchor="end" fill="#888">G125733A</text>
<text transform="translate(599.17 187.4) rotate(-52)" font-size="3.5" text-anchor="end" fill="#888">C37861T</text>
<text transform="translate(603.20 187.4) rotate(-52)" font-size="3.5" text-anchor="end" fill="#888">G128089A</text>
<text transform="translate(607.23 187.4) rotate(-52)" font-size="3.5" text-anchor="end" fill="#888">T131727C</text>
<text transform="translate(611.26 187.4) rotate(-52)" font-size="3.5" text-anchor="end" fill="#888">G52928A</text>
<text transform="translate(615.29 187.4) rotate(-52)" font-size="3.5" text-anchor="end" fill="#888">G155120A</text>
<text transform="translate(619.32 187.4) rotate(-52)" font-size="3.5" text-anchor="end" fill="#888">C18182T</text>
<text transform="translate(623.35 187.4) rotate(-52)" font-size="3.5" text-anchor="end" fill="#888">C56571A</text>
<text transform="translate(627.38 187.4) rotate(-52)" font-size="3.5" text-anchor="end" fill="#888">C97031T</text>
<text transform="translate(631.41 187.4) rotate(-52)" font-size="3.5" text-anchor="end" fill="#888">G167932A</text>
<text transform="translate(635.44 187.4) rotate(-52)" font-size="3.5" text-anchor="end" fill="#888">G165952A</text>
<text transform="translate(639.47 187.4) rotate(-52)" font-size="3.5" text-anchor="end" fill="#888">G120101A</text>
<text transform="translate(643.50 187.4) rotate(-52)" font-size="3.5" text-anchor="end" fill="#888">C102651T</text>
<text transform="translate(647.53 187.4) rotate(-52)" font-size="3.5" text-anchor="end" fill="#888">C34200T</text>
<text transform="translate(651.56 187.4) rotate(-52)" font-size="3.5" text-anchor="end" fill="#888">C119834T</text>
<text transform="translate(655.59 187.4) rotate(-52)" font-size="3.5" text-anchor="end" fill="#888">G162261A</text>
<text transform="translate(659.62 187.4) rotate(-52)" font-size="3.5" text-anchor="end" fill="#888">C115972T</text>
<text x="343.1" y="12.1" font-size="8.2" font-weight="bold" text-anchor="middle" fill="#111">Variant Frequencies lineage A.2.3</text>
<text x="342.9" y="208.9" font-size="8" font-weight="bold" text-anchor="middle" fill="#111">SNPs</text>
<text transform="translate(20.1 104.4) rotate(-90)" font-size="8.3" font-weight="bold" text-anchor="middle" fill="#111">Occurency count</text>
<text transform="translate(677.6 104.3) rotate(90)" font-size="8.25" font-weight="bold" text-anchor="middle" fill="#111">Percentage (%)</text>
<text x="-0.1" y="19.0" font-size="16" fill="#000" stroke="#000" stroke-width="0.3">A</text>
</g>
<g id="panelB" class="serif" stroke-linejoin="round">
<path d="M37.7 336.57H669.9M37.7 314.95H669.9M37.7 293.32H669.9M37.7 271.70H669.9M37.7 250.07H669.9M44.43 228.45V358.2M57.88 228.45V358.2M71.33 228.45V358.2M84.78 228.45V358.2M98.23 228.45V358.2M111.68 228.45V358.2M125.13 228.45V358.2M138.58 228.45V358.2M152.03 228.45V358.2M165.49 228.45V358.2M178.94 228.45V358.2M192.39 228.45V358.2M205.84 228.45V358.2M219.29 228.45V358.2M232.74 228.45V358.2M246.19 228.45V358.2M259.64 228.45V358.2M273.09 228.45V358.2M286.54 228.45V358.2M300.00 228.45V358.2M313.45 228.45V358.2M326.90 228.45V358.2M340.35 228.45V358.2M353.80 228.45V358.2M367.25 228.45V358.2M380.70 228.45V358.2M394.15 228.45V358.2M407.60 228.45V358.2M421.06 228.45V358.2M434.51 228.45V358.2M447.96 228.45V358.2M461.41 228.45V358.2M474.86 228.45V358.2M488.31 228.45V358.2M501.76 228.45V358.2M515.21 228.45V358.2M528.66 228.45V358.2M542.11 228.45V358.2M555.57 228.45V358.2M569.02 228.45V358.2M582.47 228.45V358.2M595.92 228.45V358.2M609.37 228.45V358.2M622.82 228.45V358.2M636.27 228.45V358.2M649.72 228.45V358.2M663.17 228.45V358.2" stroke="#ececec" stroke-width="0.5" fill="none"/>
<path d="M39.45 358.2V314.95h3.32V358.2zM52.90 358.2V300.53h3.32V358.2zM66.35 358.2V300.53h3.32V358.2zM79.80 358.2V286.12h3.32V358.2zM93.25 358.2V271.70h3.32V358.2zM106.70 358.2V286.12h3.32V358.2zM120.16 358.2V286.12h3.32V358.2zM133.61 358.2V271.70h3.32V358.2zM147.06 358.2V300.53h3.32V358.2zM160.51 358.2V293.32h3.32V358.2zM173.96 358.2V271.70h3.32V358.2zM187.41 358.2V300.53h3.32V358.2zM200.86 358.2V271.70h3.32V358.2zM214.31 358.2V286.12h3.32V358.2zM227.76 358.2V264.49h3.32V358.2zM241.21 358.2V286.12h3.32V358.2zM254.67 358.2V286.12h3.32V358.2zM268.12 358.2V307.74h3.32V358.2zM281.57 358.2V300.53h3.32V358.2zM295.02 358.2V300.53h3.32V358.2zM308.47 358.2V307.74h3.32V358.2zM321.92 358.2V307.74h3.32V358.2zM335.37 358.2V286.12h3.32V358.2zM348.82 358.2V307.74h3.32V358.2zM362.27 358.2V307.74h3.32V358.2zM375.73 358.2V293.32h3.32V358.2zM389.18 358.2V300.53h3.32V358.2zM402.63 358.2V293.32h3.32V358.2zM416.08 358.2V307.74h3.32V358.2zM429.53 358.2V300.53h3.32V358.2zM442.98 358.2V300.53h3.32V358.2zM456.43 358.2V300.53h3.32V358.2zM469.88 358.2V257.28h3.32V358.2zM483.33 358.2V307.74h3.32V358.2zM496.78 358.2V307.74h3.32V358.2zM510.24 358.2V307.74h3.32V358.2zM523.69 358.2V278.91h3.32V358.2zM537.14 358.2V293.32h3.32V358.2zM550.59 358.2V293.32h3.32V358.2zM564.04 358.2V307.74h3.32V358.2zM577.49 358.2V286.12h3.32V358.2zM590.94 358.2V300.53h3.32V358.2zM604.39 358.2V307.74h3.32V358.2zM617.84 358.2V293.32h3.32V358.2zM631.30 358.2V307.74h3.32V358.2zM644.75 358.2V278.91h3.32V358.2zM658.20 358.2V300.53h3.32V358.2z" fill="#27699d" stroke="#fff" stroke-width="0.4"/>
<path d="M42.77 358.2V350.99h3.32V358.2zM56.22 358.2V350.99h3.32V358.2zM69.67 358.2V350.99h3.32V358.2zM83.12 358.2V350.99h3.32V358.2zM96.57 358.2V350.99h3.32V358.2zM110.02 358.2V350.99h3.32V358.2zM123.47 358.2V350.99h3.32V358.2zM136.92 358.2V350.99h3.32V358.2zM150.38 358.2V350.99h3.32V358.2zM163.83 358.2V350.99h3.32V358.2zM177.28 358.2V350.99h3.32V358.2zM190.73 358.2V350.99h3.32V358.2zM204.18 358.2V350.99h3.32V358.2zM217.63 358.2V350.99h3.32V358.2zM231.08 358.2V350.99h3.32V358.2zM244.53 358.2V350.99h3.32V358.2zM257.98 358.2V350.99h3.32V358.2zM271.43 358.2V350.99h3.32V358.2zM284.89 358.2V350.99h3.32V358.2zM298.34 358.2V350.99h3.32V358.2zM311.79 358.2V350.99h3.32V358.2zM325.24 358.2V350.99h3.32V358.2zM338.69 358.2V350.99h3.32V358.2zM352.14 358.2V350.99h3.32V358.2zM365.59 358.2V350.99h3.32V358.2zM379.04 358.2V350.99h3.32V358.2zM392.49 358.2V350.99h3.32V358.2zM405.95 358.2V350.99h3.32V358.2zM419.40 358.2V350.99h3.32V358.2zM432.85 358.2V350.99h3.32V358.2zM446.30 358.2V350.99h3.32V358.2zM459.75 358.2V350.99h3.32V358.2zM473.20 358.2V350.99h3.32V358.2zM486.65 358.2V350.99h3.32V358.2zM500.10 358.2V350.99h3.32V358.2zM513.55 358.2V350.99h3.32V358.2zM527.00 358.2V350.99h3.32V358.2zM540.46 358.2V350.99h3.32V358.2zM553.91 358.2V350.99h3.32V358.2zM567.36 358.2V350.99h3.32V358.2zM580.81 358.2V350.99h3.32V358.2zM594.26 358.2V350.99h3.32V358.2zM607.71 358.2V350.99h3.32V358.2zM621.16 358.2V350.99h3.32V358.2zM634.61 358.2V350.99h3.32V358.2zM648.06 358.2V350.99h3.32V358.2zM661.52 358.2V350.99h3.32V358.2z" fill="#e07b22" stroke="#fff" stroke-width="0.4"/>
<path d="M46.08 358.2V293.32h3.32V358.2zM59.54 358.2V286.12h3.32V358.2zM72.99 358.2V264.49h3.32V358.2zM86.44 358.2V286.12h3.32V358.2zM99.89 358.2V293.32h3.32V358.2zM113.34 358.2V278.91h3.32V358.2zM126.79 358.2V286.12h3.32V358.2zM140.24 358.2V293.32h3.32V358.2zM153.69 358.2V286.12h3.32V358.2zM167.14 358.2V286.12h3.32V358.2zM180.60 358.2V293.32h3.32V358.2zM194.05 358.2V286.12h3.32V358.2zM207.50 358.2V264.49h3.32V358.2zM220.95 358.2V286.12h3.32V358.2zM234.40 358.2V293.32h3.32V358.2zM247.85 358.2V271.70h3.32V358.2zM261.30 358.2V278.91h3.32V358.2zM274.75 358.2V293.32h3.32V358.2zM288.20 358.2V271.70h3.32V358.2zM301.65 358.2V286.12h3.32V358.2zM315.11 358.2V286.12h3.32V358.2zM328.56 358.2V286.12h3.32V358.2zM342.01 358.2V300.53h3.32V358.2zM355.46 358.2V293.32h3.32V358.2zM368.91 358.2V286.12h3.32V358.2zM382.36 358.2V286.12h3.32V358.2zM395.81 358.2V293.32h3.32V358.2zM409.26 358.2V271.70h3.32V358.2zM422.71 358.2V293.32h3.32V358.2zM436.17 358.2V286.12h3.32V358.2zM449.62 358.2V293.32h3.32V358.2zM463.07 358.2V271.70h3.32V358.2zM476.52 358.2V278.91h3.32V358.2zM489.97 358.2V293.32h3.32V358.2zM503.42 358.2V293.32h3.32V358.2zM516.87 358.2V278.91h3.32V358.2zM530.32 358.2V264.49h3.32V358.2zM543.77 358.2V293.32h3.32V358.2zM557.22 358.2V278.91h3.32V358.2zM570.68 358.2V286.12h3.32V358.2zM584.13 358.2V278.91h3.32V358.2zM597.58 358.2V293.32h3.32V358.2zM611.03 358.2V286.12h3.32V358.2zM624.48 358.2V278.91h3.32V358.2zM637.93 358.2V286.12h3.32V358.2zM651.38 358.2V264.49h3.32V358.2zM664.83 358.2V300.53h3.32V358.2z" fill="#318a31" stroke="#fff" stroke-width="0.4"/>
<path d="M36.1 358.20H37.7M36.1 336.57H37.7M36.1 314.95H37.7M36.1 293.32H37.7M36.1 271.70H37.7M36.1 250.07H37.7M36.1 228.45H37.7M44.43 358.2v1.6M57.88 358.2v1.6M71.33 358.2v1.6M84.78 358.2v1.6M98.23 358.2v1.6M111.68 358.2v1.6M125.13 358.2v1.6M138.58 358.2v1.6M152.03 358.2v1.6M165.49 358.2v1.6M178.94 358.2v1.6M192.39 358.2v1.6M205.84 358.2v1.6M219.29 358.2v1.6M232.74 358.2v1.6M246.19 358.2v1.6M259.64 358.2v1.6M273.09 358.2v1.6M286.54 358.2v1.6M300.00 358.2v1.6M313.45 358.2v1.6M326.90 358.2v1.6M340.35 358.2v1.6M353.80 358.2v1.6M367.25 358.2v1.6M380.70 358.2v1.6M394.15 358.2v1.6M407.60 358.2v1.6M421.06 358.2v1.6M434.51 358.2v1.6M447.96 358.2v1.6M461.41 358.2v1.6M474.86 358.2v1.6M488.31 358.2v1.6M501.76 358.2v1.6M515.21 358.2v1.6M528.66 358.2v1.6M542.11 358.2v1.6M555.57 358.2v1.6M569.02 358.2v1.6M582.47 358.2v1.6M595.92 358.2v1.6M609.37 358.2v1.6M622.82 358.2v1.6M636.27 358.2v1.6M649.72 358.2v1.6M663.17 358.2v1.6" stroke="#333" stroke-width="0.4" fill="none"/>
<text x="34.2" y="359.80" font-size="4.45" text-anchor="end" fill="#333">0</text>
<text x="34.2" y="338.18" font-size="4.45" text-anchor="end" fill="#333">3</text>
<text x="34.2" y="316.55" font-size="4.45" text-anchor="end" fill="#333">6</text>
<text x="34.2" y="294.93" font-size="4.45" text-anchor="end" fill="#333">9</text>
<text x="34.2" y="273.30" font-size="4.45" text-anchor="end" fill="#333">12</text>
<text x="34.2" y="251.67" font-size="4.45" text-anchor="end" fill="#333">15</text>
<text x="34.2" y="230.05" font-size="4.45" text-anchor="end" fill="#333">18</text>
<text transform="translate(45.68 361.0) rotate(-90)" font-size="4.5" text-anchor="end" fill="#222">ON676707.1</text>
<text transform="translate(59.13 361.0) rotate(-90)" font-size="4.5" text-anchor="end" fill="#222">PP852946.1</text>
<text transform="translate(72.58 361.0) rotate(-90)" font-size="4.5" text-anchor="end" fill="#222">PP852948.1</text>
<text transform="translate(86.03 361.0) rotate(-90)" font-size="4.5" text-anchor="end" fill="#222">PP852950.1</text>
<text transform="translate(99.48 361.0) rotate(-90)" font-size="4.5" text-anchor="end" fill="#222">PP852952.1</text>
<text transform="translate(112.93 361.0) rotate(-90)" font-size="4.5" text-anchor="end" fill="#222">PP852958.1</text>
<text transform="translate(126.38 361.0) rotate(-90)" font-size="4.5" text-anchor="end" fill="#222">PP852959.1</text>
<text transform="translate(139.83 361.0) rotate(-90)" font-size="4.5" text-anchor="end" fill="#222">PP852960.1</text>
<text transform="translate(153.28 361.0) rotate(-90)" font-size="4.5" text-anchor="end" fill="#222">PP852961.1</text>
<text transform="translate(166.74 361.0) rotate(-90)" font-size="4.5" text-anchor="end" fill="#222">PP852962.1</text>
<text transform="translate(180.19 361.0) rotate(-90)" font-size="4.5" text-anchor="end" fill="#222">PP852963.1</text>
<text transform="translate(193.64 361.0) rotate(-90)" font-size="4.5" text-anchor="end" fill="#222">PP852964.1</text>
<text transform="translate(207.09 361.0) rotate(-90)" font-size="4.5" text-anchor="end" fill="#222">PP852965.1</text>
<text transform="translate(220.54 361.0) rotate(-90)" font-size="4.5" text-anchor="end" fill="#222">PP852967.1</text>
<text transform="translate(233.99 361.0) rotate(-90)" font-size="4.5" text-anchor="end" fill="#222">PP852968.1</text>
<text transform="translate(247.44 361.0) rotate(-90)" font-size="4.5" text-anchor="end" fill="#222">PP852969.1</text>
<text transform="translate(260.89 361.0) rotate(-90)" font-size="4.5" text-anchor="end" fill="#222">PP852970.1</text>
<text transform="translate(274.34 361.0) rotate(-90)" font-size="4.5" text-anchor="end" fill="#222">PP852973.1</text>
<text transform="translate(287.79 361.0) rotate(-90)" font-size="4.5" text-anchor="end" fill="#222">PP852975.1</text>
<text transform="translate(301.25 361.0) rotate(-90)" font-size="4.5" text-anchor="end" fill="#222">PP852976.1</text>
<text transform="translate(314.70 361.0) rotate(-90)" font-size="4.5" text-anchor="end" fill="#222">PP852981.1</text>
<text transform="translate(328.15 361.0) rotate(-90)" font-size="4.5" text-anchor="end" fill="#222">PP852983.1</text>
<text transform="translate(341.60 361.0) rotate(-90)" font-size="4.5" text-anchor="end" fill="#222">PP852988.1</text>
<text transform="translate(355.05 361.0) rotate(-90)" font-size="4.5" text-anchor="end" fill="#222">PP852992.1</text>
<text transform="translate(368.50 361.0) rotate(-90)" font-size="4.5" text-anchor="end" fill="#222">PP852994.1</text>
<text transform="translate(381.95 361.0) rotate(-90)" font-size="4.5" text-anchor="end" fill="#222">PP852997.1</text>
<text transform="translate(395.40 361.0) rotate(-90)" font-size="4.5" text-anchor="end" fill="#222">PP853000.1</text>
<text transform="translate(408.85 361.0) rotate(-90)" font-size="4.5" text-anchor="end" fill="#222">PP853001.1</text>
<text transform="translate(422.31 361.0) rotate(-90)" font-size="4.5" text-anchor="end" fill="#222">PP853005.1</text>
<text transform="translate(435.76 361.0) rotate(-90)" font-size="4.5" text-anchor="end" fill="#222">PP853007.1</text>
<text transform="translate(449.21 361.0) rotate(-90)" font-size="4.5" text-anchor="end" fill="#222">PP853008.1</text>
<text transform="translate(462.66 361.0) rotate(-90)" font-size="4.5" text-anchor="end" fill="#222">PP853009.1</text>
<text transform="translate(476.11 361.0) rotate(-90)" font-size="4.5" text-anchor="end" fill="#222">PP853013.1</text>
<text transform="translate(489.56 361.0) rotate(-90)" font-size="4.5" text-anchor="end" fill="#222">PP853018.1</text>
<text transform="translate(503.01 361.0) rotate(-90)" font-size="4.5" text-anchor="end" fill="#222">PP853021.1</text>
<text transform="translate(516.46 361.0) rotate(-90)" font-size="4.5" text-anchor="end" fill="#222">PP853024.1</text>
<text transform="translate(529.91 361.0) rotate(-90)" font-size="4.5" text-anchor="end" fill="#222">PP853027.1</text>
<text transform="translate(543.36 361.0) rotate(-90)" font-size="4.5" text-anchor="end" fill="#222">PP853033.1</text>
<text transform="translate(556.82 361.0) rotate(-90)" font-size="4.5" text-anchor="end" fill="#222">PP853041.2</text>
<text transform="translate(570.27 361.0) rotate(-90)" font-size="4.5" text-anchor="end" fill="#222">PP853046.1</text>
<text transform="translate(583.72 361.0) rotate(-90)" font-size="4.5" text-anchor="end" fill="#222">PP853047.1</text>
<text transform="translate(597.17 361.0) rotate(-90)" font-size="4.5" text-anchor="end" fill="#222">PP853048.1</text>
<text transform="translate(610.62 361.0) rotate(-90)" font-size="4.5" text-anchor="end" fill="#222">PP853049.1</text>
<text transform="translate(624.07 361.0) rotate(-90)" font-size="4.5" text-anchor="end" fill="#222">PP853053.1</text>
<text transform="translate(637.52 361.0) rotate(-90)" font-size="4.5" text-anchor="end" fill="#222">PP853051.1</text>
<text transform="translate(650.97 361.0) rotate(-90)" font-size="4.5" text-anchor="end" fill="#222">PQ153126.1</text>
<text transform="translate(664.42 361.0) rotate(-90)" font-size="4.5" text-anchor="end" fill="#a52a2a" class="red">hMPXV/P12/2022</text>
<text x="353.6" y="225.5" font-size="5.52" text-anchor="middle" fill="#222">APOBEC Mutation Counts per Sample Divided by Mutation Type</text>
<text x="353.5" y="407.8" font-size="4.45" text-anchor="middle" fill="#222">Sample</text>
<text transform="translate(25.7 293.6) rotate(-90)" font-size="4.55" text-anchor="middle" fill="#222">Number of APOBEC Mutations</text>
<rect x="608.5" y="230.1" width="58.9" height="28.5" rx="0.9" fill="#fff" fill-opacity="0.85" stroke="#d0d0d0" stroke-width="0.5"/>
<text x="638" y="235.6" font-size="4.6" text-anchor="middle" fill="#222">APOBEC Mutation Type</text>
<rect x="622.2" y="239.55" width="9.6" height="3.1" fill="#2a70a8"/>
<text x="634.9" y="242.65" font-size="4.75" fill="#222">CA&gt;AA</text>
<rect x="622.2" y="246.10" width="9.6" height="3.1" fill="#e97f27"/>
<text x="634.9" y="249.20" font-size="4.75" fill="#222">CG&gt;AG</text>
<rect x="622.2" y="252.65" width="9.6" height="3.1" fill="#358f35"/>
<text x="634.9" y="255.75" font-size="4.75" fill="#222">TC&gt;TT</text>
<text x="-1.2" y="231.8" font-size="16" fill="#000" style="stroke:#000;stroke-width:0.3px" class="sans">B</text>
</g>
</g>
<rect x="37.7" y="228.45" width="632.20" height="129.75" fill="none" stroke="#2a2a2a" stroke-width="0.6"/>
</svg></body></html>
